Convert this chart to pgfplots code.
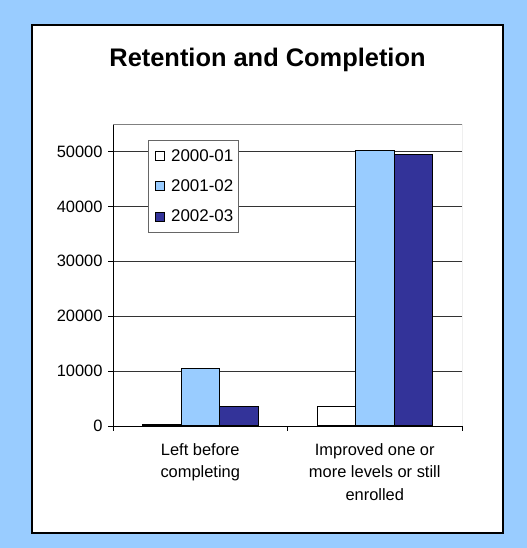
\documentclass[border=0pt]{standalone}
\usepackage{fontspec}
\setmainfont{Liberation Sans}
\usepackage{pgfplots}
\pgfplotsset{compat=1.18}
\definecolor{bgblue}{HTML}{99CCFF}
\definecolor{darkbar}{HTML}{333399}
\begin{document}
\begin{tikzpicture}[x=1bp,y=1bp]
% backdrop and chart panel
\fill[bgblue] (0,0) rectangle (527,548);
\filldraw[fill=white, draw=black, line width=1.2bp] (32,15) rectangle (503,523);
\node[font=\fontsize{25.5}{30}\selectfont\bfseries] at (267.5,488) {Retention and Completion};
\begin{axis}[
  at={(113bp,122bp)}, anchor=south west,
  scale only axis, width=349bp, height=302bp,
  ybar=0pt, bar width=38.5bp,
  xmin=-0.5, xmax=1.5, ymin=0, ymax=55000,
  axis lines=left, axis line style={-, black, line width=0.8bp},
  ytick={0,10000,20000,30000,40000,50000},
  xtick={0,1},
  xticklabels={{Left before\\completing},{Improved one or\\more levels or still\\enrolled}},
  major x tick style={draw=none},
  minor xtick={-0.5,0.5,1.5},
  minor tick length=5bp, major tick length=5bp,
  tick align=outside,
  tick style={black, line width=0.8bp},
  ymajorgrids, grid style={black!80, line width=0.7bp},
  scaled y ticks=false,
  /pgf/number format/.cd, 1000 sep={}, assume math mode=true, /pgfplots/.cd,
  ticklabel style={font=\fontsize{16.5}{22.5}\selectfont},
  yticklabel style={xshift=-2bp},
  xticklabel style={align=center, yshift=-9bp},
  legend style={at={(0.1,0.947)}, anchor=north west, draw=black!60,
    font=\fontsize{17}{22}\selectfont, row sep=13bp, inner xsep=3bp, inner ysep=7bp},
  legend cell align=left,
  legend image code/.code={\path (-4bp,0) (13bp,0);
    \draw[#1, draw=black, line width=0.7bp] (0bp,-4.5bp) rectangle (9bp,4.5bp);},
]
\addplot[fill=white, draw=black, line width=1bp] coordinates {(0,300) (1,3500)};
\addlegendentry{2000-01}
\addplot[fill=bgblue, draw=black, line width=1bp] coordinates {(0,10400) (1,50200)};
\addlegendentry{2001-02}
\addplot[fill=darkbar, draw=black, line width=1bp] coordinates {(0,3500) (1,49400)};
\addlegendentry{2002-03}
\draw[gray, line width=0.8bp] (rel axis cs:0,1) -- (rel axis cs:1,1) -- (rel axis cs:1,0);
\end{axis}
\end{tikzpicture}
\end{document}
